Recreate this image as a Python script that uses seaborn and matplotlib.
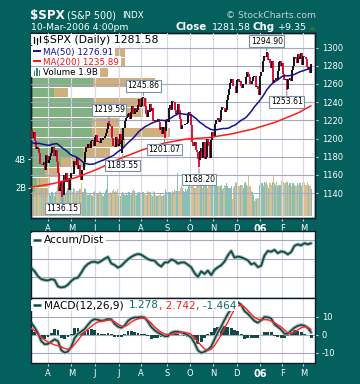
import numpy as np
import pandas as pd
import matplotlib
matplotlib.use("Agg")
import matplotlib.pyplot as plt
import seaborn as sns
from matplotlib.transforms import blended_transform_factory
from matplotlib.patches import Rectangle, Polygon
from matplotlib.lines import Line2D

sns.set_style("white")
plt.rcParams["font.family"] = ["DejaVu Sans"]

# ---------------- data ----------------
warmup_closes = [1213.5, 1213.5, 1211.9,
                 1202.1, 1188.1, 1183.7, 1187.9, 1186.2, 1190.3, 1182.3, 1187.8, 1177.5, 1184.5,
                 1195.9, 1184.6, 1175.4, 1167.9, 1163.8, 1168.4, 1174.1, 1174.6, 1171.4, 1181.3,
                 1189.4, 1193.2, 1189.9, 1203.0, 1201.7, 1202.3, 1192.0, 1197.0, 1205.3, 1206.1,
                 1210.1, 1210.3, 1200.8, 1201.6, 1184.2, 1190.8, 1200.2, 1211.4, 1203.6,
                 1210.4, 1210.1, 1210.5, 1222.1, 1225.3, 1219.4, 1207.0]

closes = [
    # Mar 2005
    1209.3, 1200.1, 1206.8, 1197.8, 1188.1, 1190.2, 1189.7, 1183.8, 1171.7, 1172.5, 1171.4, 1174.3, 1165.4, 1181.4, 1180.6,
    # Apr
    1172.9, 1176.1, 1180.6, 1184.1, 1191.1, 1181.2, 1181.2, 1187.8, 1173.8, 1162.1, 1142.6, 1146.0, 1152.8, 1137.5, 1160.0,
    1152.1, 1162.1, 1151.8, 1156.4, 1143.2, 1156.9,
    # May
    1162.2, 1161.2, 1175.7, 1172.6, 1171.4, 1178.8, 1166.2, 1171.1, 1159.4, 1154.1, 1165.7, 1173.8, 1185.6, 1191.1, 1189.3,
    1193.9, 1194.1, 1190.0, 1197.6, 1198.8, 1191.5,
    # Jun
    1202.2, 1204.3, 1196.0, 1197.5, 1197.3, 1194.7, 1200.9, 1198.1, 1200.8, 1203.0, 1206.6, 1211.0, 1217.0, 1216.1, 1213.6,
    1213.9, 1200.7, 1191.6, 1190.7, 1201.6, 1199.9, 1191.3,
    # Jul
    1194.4, 1205.0, 1194.9, 1197.9, 1211.9, 1219.4, 1222.2, 1223.3, 1226.5, 1227.9, 1221.1, 1229.4, 1235.2, 1227.0, 1233.7,
    1229.0, 1231.2, 1236.8, 1243.7, 1234.2,
    # Aug
    1235.4, 1244.1, 1245.0, 1235.9, 1226.4, 1223.1, 1231.4, 1229.1, 1237.8, 1230.4, 1233.9, 1219.3, 1220.2, 1219.0, 1219.7,
    1221.7, 1217.6, 1209.6, 1212.4, 1205.1, 1212.3, 1208.4, 1220.3,
    # Sep
    1221.6, 1218.0, 1233.4, 1236.4, 1231.7, 1241.5, 1240.6, 1231.2, 1227.2, 1227.7, 1237.9, 1231.0, 1221.3, 1210.2, 1214.6,
    1215.3, 1215.6, 1215.7, 1216.9, 1227.7, 1228.8,
    # Oct
    1226.7, 1214.5, 1196.4, 1191.5, 1195.9, 1187.3, 1184.9, 1177.7, 1176.8, 1186.6, 1190.1, 1178.1, 1195.8, 1177.8, 1179.6,
    1199.4, 1196.5, 1191.4, 1178.9, 1198.4, 1207.0,
    # Nov
    1202.8, 1215.4, 1219.9, 1220.1, 1222.8, 1218.6, 1220.7, 1231.0, 1234.7, 1233.8, 1229.0, 1231.2, 1242.8, 1248.3, 1254.9,
    1261.2, 1265.6, 1265.1, 1257.5, 1257.5, 1249.5,
    # Dec
    1264.7, 1265.1, 1262.1, 1263.7, 1257.4, 1255.8, 1259.4, 1260.4, 1267.4, 1272.7, 1270.9, 1267.3, 1259.9, 1259.6, 1262.8,
    1268.1, 1268.7, 1256.5, 1258.2, 1254.4, 1248.3,
    # Jan 2006
    1268.8, 1273.5, 1273.5, 1285.5, 1290.2, 1289.7, 1294.2, 1286.1, 1287.6, 1282.9, 1277.9, 1285.0, 1261.5, 1263.8, 1266.9,
    1264.7, 1273.8, 1283.7, 1285.2, 1280.1,
    # Feb
    1282.5, 1270.8, 1264.0, 1265.0, 1254.8, 1265.7, 1263.8, 1267.0, 1262.9, 1275.5, 1280.0, 1289.4, 1287.2, 1283.0, 1292.7,
    1287.8, 1289.4, 1294.1, 1280.7,
    # Mar
    1291.2, 1289.1, 1287.2, 1278.3, 1275.9, 1278.5, 1272.2, 1281.6,
]

volume_tenths_b = [
    18, 17, 15, 17, 19, 20, 27, 15, 18, 19, 16, 14, 19, 20, 18,
    17, 16, 15, 17, 17, 16, 14, 17, 18, 21, 23, 20, 19, 20, 21, 18, 16, 18, 20, 21, 20,
    18, 17, 20, 19, 16, 18, 18, 19, 19, 23, 17, 17, 20, 19, 17, 15, 16, 16, 15, 14, 17,
    18, 17, 16, 16, 18, 17, 16, 15, 14, 16, 18, 19, 28, 16, 17, 16, 18, 19, 17, 18, 17, 19,
    15, 14, 16, 17, 16, 15, 15, 16, 15, 17, 15, 16, 18, 19, 18, 15, 15, 16, 17, 16,
    16, 17, 17, 16, 15, 15, 18, 17, 17, 15, 14, 18, 17, 15, 14, 14, 15, 16, 14, 14, 15, 15, 19,
    17, 15, 17, 17, 16, 18, 17, 19, 18, 18, 30, 18, 20, 21, 20, 18, 17, 19, 18, 19, 22,
    19, 22, 23, 24, 20, 20, 21, 22, 23, 27, 21, 20, 22, 24, 23, 21, 20, 23, 22, 21, 21,
    22, 22, 24, 22, 21, 21, 21, 22, 19, 20, 22, 21, 23, 21, 20, 20, 21, 12, 20, 21, 24,
    23, 21, 21, 22, 22, 22, 20, 23, 24, 22, 21, 29, 21, 18, 17, 15, 11, 12, 12, 13, 13,
    22, 23, 23, 21, 24, 23, 24, 22, 20, 23, 22, 24, 29, 23, 22, 25, 21, 22, 22, 25,
    24, 24, 23, 23, 25, 24, 22, 23, 21, 23, 23, 22, 21, 21, 23, 22, 23, 21, 24,
    23, 23, 22, 22, 24, 22, 21, 19,
]

ma200_days = [0, 20, 40, 60, 80, 100, 120, 140, 160, 180, 200, 220, 240, 252]
ma200_values = [1146.4, 1150.5, 1157.0, 1166.5, 1178.0, 1187.5, 1195.0, 1199.5, 1201.0, 1205.0,
                1210.5, 1218.0, 1228.0, 1235.9]

# indicator samples, one every 3 trading days
indicator_step = 3
accum_dist = [0.50, 0.32, 0.05, -0.10, -0.15, -0.17, -0.10, -0.15, -0.50, -0.55,
              -0.52, -0.40, -0.20, -0.06, -0.02, 0.25, 0.55, 0.72, 0.82, 0.84,
              0.78, 0.88, 1.00, 1.10, 0.75, 0.66, 0.52, 0.62, 0.80, 0.97,
              1.10, 1.20, 1.26, 1.22, 1.10, 0.98, 0.92, 0.90, 0.70, 0.58,
              0.80, 0.80, 0.96, 0.90, 0.74, 0.80, 0.80, 0.68, 0.54, 0.23,
              0.02, 0.32, 0.18, 0.36, 0.12, 0.40, 0.54, 0.65, 0.85, 1.18,
              1.42, 1.06, 1.12, 1.08, 1.00, 0.92, 0.70, 0.76, 0.55, 0.62,
              1.18, 1.42, 1.38, 1.48, 1.30, 1.40, 1.36, 1.24, 1.36, 1.70,
              1.78, 1.72, 1.84, 1.78, 1.84]

macd_line = [6.5, 4.0, 0.8, -3.5, -5.2, -5.0, -3.8, -2.5, -3.5, -8.5,
             -9.8, -9.2, -6.5, -1.8, 0.5, 1.8, 3.2, 5.5, 7.6, 8.6,
             8.2, 7.7, 8.0, 8.8, 8.5, 6.0, 4.5, 3.8, 5.0, 7.6,
             9.0, 9.5, 9.5, 9.8, 9.5, 7.2, 4.3, 2.5, 1.2, 0.2,
             -0.8, -0.8, 1.1, 1.7, 1.7, 1.3, 0.6, -0.2, -1.5, -4.5,
             -8.5, -9.9, -9.3, -8.2, -6.5, -2.5, 1.3, 4.5, 8.2, 11.5,
             14.2, 16.8, 17.8, 16.5, 13.0, 11.5, 9.5, 7.6, 6.6, 8.0,
             9.8, 9.6, 9.0, 5.8, 4.3, 2.8, 0.6, 0.5, 2.3, 3.9,
             4.9, 5.4, 5.0, 3.8, 1.3]
macd_signal = [3.5, 2.2, 0.3, -1.4, -2.8, -3.9, -4.8, -5.6, -6.0, -6.6,
               -7.5, -8.0, -7.2, -5.3, -3.0, -0.6, 1.3, 3.1, 4.6, 6.0,
               7.0, 7.4, 7.7, 8.0, 8.0, 7.1, 5.9, 4.9, 4.6, 5.4,
               7.0, 8.0, 8.7, 9.1, 9.1, 8.0, 6.4, 4.3, 2.8, 1.4,
               0.5, 0.2, 0.1, 0.6, 1.1, 1.4, 1.4, 1.0, 0.2, -1.4,
               -3.6, -6.0, -7.8, -8.4, -8.0, -6.0, -3.0, 0.0, 3.6, 7.0,
               10.6, 14.0, 15.8, 16.3, 15.3, 13.3, 11.3, 9.6, 8.6, 8.2,
               8.3, 8.2, 7.6, 6.6, 5.5, 4.3, 2.6, 1.2, 0.7, 1.4,
               2.7, 3.8, 4.4, 4.1, 2.9]

vbp_price_mid = [1294.5, 1283.5, 1272.5, 1261.5, 1250.5, 1239.5, 1228.5, 1217.5,
                 1206.5, 1195.5, 1184.5, 1173.5, 1162.5, 1151.5, 1140.5]
vbp_up_frac = [0.173, 0.173, 0.137, 0.218, 0.081, 0.218, 0.218, 0.215,
               0.215, 0.208, 0.183, 0.106, 0.049, 0.032, 0.018]
vbp_down_frac = [0.158, 0.158, 0.134, 0.218, 0.049, 0.190, 0.176, 0.099,
                 0.275, 0.123, 0.095, 0.088, 0.053, 0.035, 0.042]

price_ticks = [1140, 1160, 1180, 1200, 1220, 1240, 1260, 1280, 1300]
volume_ticks = [2, 4]
volume_tick_labels = ["2B", "4B"]
macd_ticks = [-10, 0, 10]
month_labels = ["A", "M", "J", "J", "A", "S", "O", "N", "D", "06", "F", "M"]

extreme_dates = ["2005-04-20", "2005-06-20", "2005-07-07", "2005-08-03",
                 "2005-08-30", "2005-10-13", "2006-01-11", "2006-02-07"]
extreme_values = [1136.15, 1219.59, 1183.55, 1245.86, 1201.07, 1168.20, 1294.90, 1253.61]
extreme_is_high = [False, True, False, True, False, False, True, False]

holidays = ["2005-03-25", "2005-05-30", "2005-07-04", "2005-09-05", "2005-11-24",
            "2005-12-26", "2006-01-02", "2006-01-16", "2006-02-20"]

# ---------------- derived ----------------
dates = pd.bdate_range("2005-03-10", "2006-03-10")
dates = dates[~dates.isin(pd.to_datetime(holidays))]
n = len(dates)
idx = np.arange(n)
close = np.array(closes, dtype=float)
prev = np.r_[warmup_closes[-1], close[:-1]]
lo = np.minimum(prev, close)
hi = np.maximum(prev, close)
ext_idx = [dates.get_loc(pd.Timestamp(d)) for d in extreme_dates]
for i, v, h in zip(ext_idx, extreme_values, extreme_is_high):
    if h:
        hi[i] = max(hi[i], v)
    else:
        lo[i] = min(lo[i], v)
up = close >= prev

full = pd.Series(warmup_closes + closes, dtype=float)
ma50 = full.rolling(50, min_periods=40).mean().to_numpy()[-n:]
vol = np.array(volume_tenths_b) / 10.0
ind_days = np.arange(len(accum_dist)) * indicator_step
macd_hist = np.array(macd_line) - np.array(macd_signal)
month_idx = [i for i in range(1, n) if dates[i].month != dates[i - 1].month]

# ---------------- style ----------------
TEAL = "#03605D"
BORDER = "#0E1C2E"
GRID_H = "#A6A8C0"
GRID_V = "#D6D8E2"
W, H = 360, 384

fig = plt.figure(figsize=(W / 100, H / 100), dpi=100, facecolor=TEAL)


def px_axes(l, t, r, b, **kw):
    return fig.add_axes([l / W, 1 - b / H, (r - l) / W, (b - t) / H], **kw)


ax_p = px_axes(31, 33, 315, 218)
ax_v = ax_p.twinx()
ax_top = px_axes(31, 33, 315, 218, sharex=ax_p, sharey=ax_p)
ax_ad = px_axes(31, 231, 315, 298, sharex=ax_p)
ax_m = px_axes(31, 298, 315, 363, sharex=ax_p)

for a in (ax_p, ax_ad, ax_m):
    a.set_facecolor("white")
ax_v.patch.set_visible(False)
ax_top.patch.set_visible(False)
ax_top.axis("off")

# volume-by-price bars
trans = blended_transform_factory(ax_p.transAxes, ax_p.transData)
ax_p.barh(vbp_price_mid, vbp_up_frac, left=0, height=9.6, color="#82B183",
          linewidth=0, transform=trans, zorder=1)
ax_p.barh(vbp_price_mid, vbp_down_frac, left=vbp_up_frac, height=9.6, color="#D0AF7F",
          linewidth=0, transform=trans, zorder=1)

# volume bars
ax_v.bar(idx, vol, width=1.0, color=np.where(up, "#7DBCAE", "#D6B88E"),
         linewidth=0, alpha=0.92)

# grid over volume, under price
for t in price_ticks:
    ax_top.axhline(t, color=GRID_H, lw=0.8, zorder=0.5)
for m in month_idx:
    ax_top.axvline(m, color=GRID_V, lw=0.8, zorder=0.4)

# price bars
ax_top.vlines(idx, lo, hi, colors=np.where(up, "#000000", "#D8002E"), lw=1.3, zorder=2)
sns.lineplot(x=idx, y=ma50, ax=ax_top, color="#12128C", linewidth=1.1, zorder=3)
sns.lineplot(x=ma200_days, y=ma200_values, ax=ax_top, color="#FF1A1A", linewidth=1.1, zorder=3)

for i, v, h in zip(ext_idx, extreme_values, extreme_is_high):
    ax_top.annotate(f"{v:.2f}", xy=(i, v), xytext=(0, 11 if h else -12),
                    textcoords="offset pixels", ha="center", va="center",
                    fontsize=5.6, color="black", zorder=6, annotation_clip=False,
                    bbox=dict(boxstyle="square,pad=0.18", fc="white", ec="#7F8FA2", lw=0.8),
                    arrowprops=dict(arrowstyle="-", color="#7F8FA2", lw=0.8, shrinkA=0, shrinkB=1))

# accum/dist panel
for t in (0, 1, 2):
    ax_ad.axhline(t, color=GRID_H, lw=0.8, zorder=0.5)
for m in month_idx:
    ax_ad.axvline(m, color=GRID_V, lw=0.8, zorder=0.4)
sns.lineplot(x=ind_days, y=accum_dist, ax=ax_ad, color="#A2B6B4", linewidth=2.6, zorder=2)
sns.lineplot(x=ind_days, y=accum_dist, ax=ax_ad, color="#0E4A46", linewidth=1.2, zorder=3)

# macd panel
for t in macd_ticks:
    ax_m.axhline(t, color=GRID_H, lw=0.8, zorder=0.5)
for m in month_idx:
    ax_m.axvline(m, color=GRID_V, lw=0.8, zorder=0.4)
ax_m.bar(ind_days, macd_hist, width=indicator_step * 0.85, color="#124A47", linewidth=0, zorder=1)
sns.lineplot(x=ind_days, y=macd_line, ax=ax_m, color="#A2B6B4", linewidth=2.6, zorder=2)
sns.lineplot(x=ind_days, y=macd_line, ax=ax_m, color="#17403E", linewidth=1.1, zorder=3)
sns.lineplot(x=ind_days, y=macd_signal, ax=ax_m, color="#FF2424", linewidth=1.0, zorder=4)

# ---------------- limits & ticks ----------------
ax_p.set_xlim(-0.3, 255.5)
ax_p.set_ylim(1112.6, 1316)
ax_v.set_ylim(-0.11, 12.78)
ax_ad.set_ylim(-1.12, 2.5)
ax_m.set_ylim(-15.5, 20.2)

for a in (ax_p, ax_v, ax_top, ax_ad, ax_m):
    a.set_xlabel("")
    a.set_ylabel("")

ax_p.set_xticks(month_idx)
ax_p.set_xticklabels(month_labels)
ax_p.yaxis.tick_right()
ax_p.set_yticks(price_ticks)
ax_p.set_yticklabels([str(t) for t in price_ticks])
ax_p.tick_params(axis="y", which="both", left=False, right=True, labelleft=False, labelright=True,
                 labelcolor="white", color="#C8D6D6", length=2, width=0.8, labelsize=6, pad=3)
ax_p.tick_params(axis="x", bottom=True, labelbottom=True, labelcolor="white", color="#C8D6D6",
                 length=2.5, width=0.8, labelsize=6, pad=1.5)

ax_v.yaxis.tick_left()
ax_v.set_yticks(volume_ticks)
ax_v.set_yticklabels(volume_tick_labels)
ax_v.tick_params(axis="y", left=True, right=False, labelleft=True, labelright=False,
                 labelcolor="white", color="white", length=2.5, width=0.8, labelsize=6, pad=1)

ax_ad.tick_params(axis="both", left=False, right=False, labelleft=False, bottom=False,
                  labelbottom=False, length=0)

ax_m.yaxis.tick_right()
ax_m.set_yticks(macd_ticks)
ax_m.set_yticklabels([str(t) for t in macd_ticks])
ax_m.tick_params(axis="y", left=False, right=True, labelleft=False, labelright=True,
                 labelcolor="white", color="#C8D6D6", length=2, width=0.8, labelsize=6, pad=3)
ax_m.tick_params(axis="x", bottom=True, labelbottom=True, labelcolor="white", color="#C8D6D6",
                 length=2.5, width=0.8, labelsize=6, pad=1.5)

for a in (ax_p, ax_m):
    for lab in a.get_xticklabels():
        if lab.get_text() == "06":
            lab.set_fontweight("bold")
            lab.set_fontsize(7)

for a in (ax_p, ax_v, ax_ad, ax_m):
    for s in a.spines.values():
        s.set_color(BORDER)
        s.set_linewidth(1.0)

# ---------------- header & legends ----------------
renderer = fig.canvas.get_renderer()


def ftext(x, y, s, **kw):
    kw.setdefault("zorder", 7)
    return fig.text(x / W, 1 - y / H, s, ha=kw.pop("ha", "left"), va=kw.pop("va", "baseline"), **kw)


def frect(x0, y0, x1, y1, color, z=6):
    fig.add_artist(Rectangle((x0 / W, 1 - y1 / H), (x1 - x0) / W, (y1 - y0) / H,
                             transform=fig.transFigure, facecolor=color, edgecolor="none", zorder=z))


def fline(x0, x1, y, color, lw=1.4):
    fig.add_artist(Line2D([x0 / W, x1 / W], [1 - y / H, 1 - y / H], transform=fig.transFigure,
                          color=color, lw=lw, zorder=8, solid_capstyle="butt"))


def rich(x, y, parts):
    for s, color, size, weight, gap in parts:
        t = ftext(x, y, s, color=color, fontsize=size, fontweight=weight, zorder=8)
        x = t.get_window_extent(renderer).x1 + gap
    return x


ftext(30, 19, "$SPX", color="white", fontsize=8.6, fontweight="bold")
ftext(67, 18.5, "(S&P 500)", color="white", fontsize=7.0)
ftext(122, 18.5, "INDX", color="white", fontsize=6.3)
ftext(226, 18.5, "\u00a9 StockCharts.com", color="#C3D2D2", fontsize=6.6)
ftext(31, 30, "10-Mar-2006 4:00pm", color="white", fontsize=6.7)
ftext(176, 30, "Close", color="white", fontsize=7.4, fontweight="bold")
ftext(212, 30, "1281.58", color="white", fontsize=6.8)
ftext(253, 30, "Chg", color="white", fontsize=7.4, fontweight="bold")
ftext(278, 30, "+9.35", color="white", fontsize=6.8)
fig.add_artist(Polygon([[309 / W, 1 - 30 / H], [316 / W, 1 - 30 / H], [312.5 / W, 1 - 26 / H]],
                       closed=True, transform=fig.transFigure, facecolor="#3E6B45",
                       edgecolor="none", zorder=8))

# price legend
frect(31, 34, 167, 45, "white")
e1 = rich(43, 43, [("$SPX (Daily) 1281.58", "black", 7.8, "normal", 0)])
for xx, y0, y1 in ((34, 37, 43), (37, 38, 44), (40, 36, 42)):
    fig.add_artist(Line2D([xx / W, xx / W], [1 - y1 / H, 1 - y0 / H], transform=fig.transFigure,
                          color="black", lw=0.9, zorder=8))
e2 = rich(43, 54.5, [("MA(50) 1276.91", "#101090", 6.3, "normal", 0)])
frect(31, 46, e2 + 2, 56, "white")
fline(33, 41, 51, "#101090")
e3 = rich(43, 64.5, [("MA(200) 1235.89", "#FF1010", 6.3, "normal", 0)])
frect(31, 56, e3 + 2, 66, "white")
fline(33, 41, 61, "#FF1010")
e4 = rich(43, 75, [("Volume 1.9B", "black", 6.3, "normal", 0)])
frect(31, 67, e4 + 2, 77, "white")
for xx, h in ((33.5, 5), (36, 8), (38.5, 6)):
    frect(xx, 76 - h, xx + 1.6, 76, "#2F8A5E", z=8)

# accum/dist legend
e5 = rich(44, 243.5, [("Accum/Dist", "black", 7.6, "normal", 0)])
frect(31, 233, e5 + 2, 246, "white")
fline(33, 41, 239.5, "#0E4A46", lw=1.8)

# macd legend
e6 = rich(44, 308.5, [("MACD(12,26,9) ", "black", 7.6, "normal", 2),
                      ("1.278", "#0E6B66", 7.6, "normal", 0),
                      (", 2.742", "#FF1A1A", 7.6, "normal", 0),
                      (", -1.464", "#0E6B66", 7.6, "normal", 0)])
frect(31, 299.5, e6 + 2, 311, "white")
fline(33, 41, 304.5, "#0E4A46", lw=1.8)

fig.savefig("out.png", dpi=100, facecolor=TEAL)
